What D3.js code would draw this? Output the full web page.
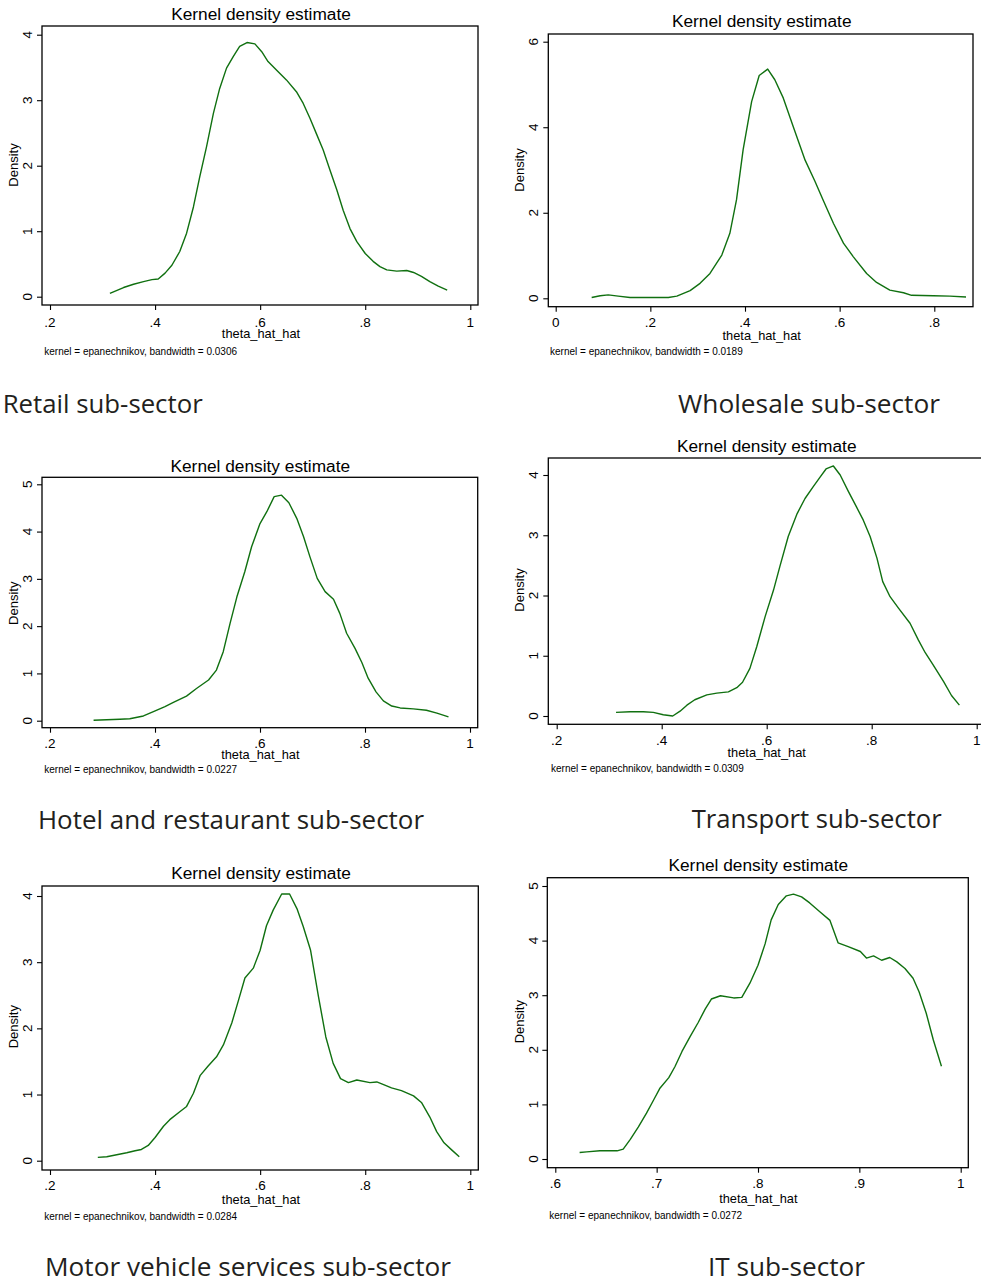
<!DOCTYPE html>
<html>
<head>
<meta charset="utf-8">
<script src="https://cdn.jsdelivr.net/npm/d3@7"></script>
<style>
body { margin: 0; background: #fff; }
</style>
</head>
<body>
<svg id="chart" width="981" height="1282"></svg>
<script>
// values (theta_hat_hat vs density)
var retailX = [.314,.340,.359,.378,.394,.406,.419,.432,.447,.460,.473,.485,.498,.511,.523,.536,.549,.561,.575,.590,.603,.615,.631,.650,.669,.682,.695,.707,.720,.733,.746,.758,.771,.784,.800,.815,.828,.841,.860,.879,.892,.907,.923,.939,.956];
var retailY = [0.05,0.14,0.19,0.23,0.26,0.27,0.36,0.48,0.69,0.97,1.37,1.83,2.29,2.80,3.18,3.49,3.67,3.82,3.88,3.86,3.74,3.59,3.46,3.31,3.13,2.95,2.72,2.49,2.24,1.93,1.63,1.32,1.04,0.84,0.66,0.54,0.46,0.41,0.39,0.40,0.37,0.31,0.23,0.16,0.10];

var wholesaleX = [.076,.094,.111,.132,.157,.185,.213,.238,.256,.284,.305,.326,.351,.368,.382,.396,.414,.430,.448,.463,.481,.502,.527,.548,.565,.587,.608,.629,.657,.678,.706,.735,.752,.798,.833,.867];
var wholesaleY = [0.02,0.06,0.08,0.05,0.02,0.02,0.02,0.02,0.05,0.18,0.35,0.58,1.01,1.52,2.30,3.47,4.60,5.21,5.36,5.11,4.68,4.01,3.23,2.73,2.30,1.75,1.29,0.97,0.58,0.37,0.19,0.13,0.07,0.06,0.05,0.03];

var hotelX = [.283,.308,.333,.352,.378,.397,.419,.435,.460,.479,.502,.517,.530,.543,.556,.571,.584,.600,.613,.627,.641,.655,.670,.683,.695,.709,.724,.740,.752,.765,.781,.794,.806,.821,.835,.851,.867,.892,.917,.937,.959];
var hotelY = [0.01,0.02,0.03,0.04,0.10,0.19,0.30,0.39,0.52,0.68,0.86,1.07,1.46,2.06,2.62,3.15,3.68,4.17,4.42,4.74,4.77,4.61,4.28,3.89,3.47,3.01,2.73,2.57,2.27,1.85,1.53,1.23,0.90,0.61,0.42,0.31,0.27,0.25,0.22,0.16,0.08];

var transportX = [.313,.340,.365,.384,.403,.421,.435,.448,.463,.486,.505,.527,.543,.554,.568,.581,.597,.613,.625,.641,.658,.673,.689,.702,.713,.727,.740,.756,.771,.784,.797,.810,.821,.835,.851,.873,.889,.902,.917,.937,.952,.967];
var transportY = [0.06,0.07,0.07,0.06,0.02,0.00,0.08,0.18,0.27,0.35,0.38,0.40,0.47,0.56,0.79,1.15,1.65,2.09,2.48,2.98,3.36,3.61,3.81,3.97,4.10,4.15,4.00,3.72,3.47,3.25,2.98,2.62,2.23,1.98,1.79,1.54,1.26,1.05,0.85,0.57,0.34,0.18];

var motorX = [.291,.308,.327,.346,.362,.374,.387,.400,.416,.428,.447,.460,.473,.486,.501,.517,.530,.546,.559,.571,.587,.600,.612,.625,.641,.656,.670,.682,.696,.711,.725,.739,.753,.768,.784,.809,.822,.835,.850,.869,.892,.907,.923,.936,.950,.965,.979];
var motorY = [0.05,0.06,0.09,0.12,0.15,0.17,0.23,0.35,0.52,0.62,0.74,0.82,1.02,1.29,1.43,1.57,1.75,2.08,2.43,2.76,2.91,3.18,3.55,3.79,4.03,4.03,3.81,3.54,3.18,2.48,1.87,1.47,1.24,1.18,1.22,1.18,1.19,1.15,1.10,1.06,0.98,0.88,0.66,0.44,0.27,0.16,0.06];

var itX = [.624,.631,.644,.661,.667,.674,.682,.690,.697,.703,.712,.718,.725,.733,.741,.748,.754,.763,.776,.784,.792,.800,.807,.813,.820,.828,.835,.843,.851,.861,.871,.879,.889,.901,.907,.914,.922,.930,.937,.945,.953,.959,.966,.973,.981];
var itY = [0.12,0.13,0.15,0.15,0.18,0.36,0.59,0.84,1.08,1.29,1.49,1.69,1.97,2.24,2.50,2.75,2.93,2.99,2.95,2.96,3.22,3.55,3.94,4.38,4.66,4.82,4.85,4.80,4.69,4.53,4.37,3.96,3.89,3.80,3.68,3.72,3.64,3.69,3.61,3.49,3.31,3.06,2.67,2.18,1.70];

var xTicksA = [.2,.4,.6,.8,1];
var xTicksWholesale = [0,.2,.4,.6,.8];
var xTicksIT = [.6,.7,.8,.9,1];
var yTicks4 = [0,1,2,3,4];
var yTicks5 = [0,1,2,3,4,5];
var yTicks6 = [0,2,4,6];

var captions = ["Retail sub-sector","Wholesale sub-sector","Hotel and restaurant sub-sector","Transport sub-sector","Motor vehicle services sub-sector","IT sub-sector"];
var bandwidths = ["0.0306","0.0189","0.0227","0.0309","0.0284","0.0272"];

var seriesX = [retailX, wholesaleX, hotelX, transportX, motorX, itX];
var seriesY = [retailY, wholesaleY, hotelY, transportY, motorY, itY];
var xTickSets = [xTicksA, xTicksWholesale, xTicksA, xTicksA, xTicksA, xTicksIT];
var yTickSets = [yTicks4, yTicks6, yTicks5, yTicks4, yTicks4, yTicks5];

// where each panel sits on the page
var layout = [
  {frame:[42,26,478,305], xr:[50,470.3], yr:[296.7,34.7], title:[261,20], xLabY:327, yLabX:31.7, dens:[17.6,165], thetaY:338, note:[44.3,354.5], cap:[2.7,413,200]},
  {frame:[548.3,34,973,306.7], xr:[555.7,934.3], yr:[298.3,41.7], title:[761.7,27], xLabY:327.2, yLabX:538.3, dens:[524.3,170], thetaY:340, note:[550,355], cap:[678,413,262]},
  {frame:[42,477.3,477.7,727.7], xr:[50,470], yr:[720.7,484.3], title:[260.3,471.8], xLabY:747.8, yLabX:31.7, dens:[17.6,603.3], thetaY:759, note:[44.3,773], cap:[38,829,386]},
  {frame:[548.3,458,992,724.3], xr:[556.7,976.7], yr:[716,475], title:[766.7,451.7], xLabY:744.5, yLabX:537.7, dens:[524.3,590], thetaY:757, note:[551,772], cap:[691.7,828.3,250]},
  {frame:[42,886,478.3,1170], xr:[50,470.3], yr:[1160.7,896], title:[261,879], xLabY:1189.5, yLabX:31.7, dens:[17.6,1026.7], thetaY:1203.5, note:[44.3,1219.7], cap:[45,1275.5,406]},
  {frame:[547.3,877.7,968.3,1167.7], xr:[555.3,960.7], yr:[1159,886], title:[758.3,870.8], xLabY:1187.8, yLabX:537.7, dens:[524.3,1021.7], thetaY:1202.5, note:[549.3,1218.5], cap:[708,1275.5,157]}
];

var stataFont = "'Liberation Sans', Arial, sans-serif";
var lineColor = "#107010";
var ink = "#000";

// stata style tick labels: .2 instead of 0.2
function fmtTick(d) {
  var s = d3.format("~g")(d);
  return s.replace(/^0\./, ".");
}

var svg = d3.select("#chart");
svg.append("rect").attr("width", 981).attr("height", 1282).attr("fill", "#fff");

layout.forEach(function(L, i) {
  var g = svg.append("g").attr("class", "panel_" + i);
  var xt = xTickSets[i], yt = yTickSets[i];
  var x = d3.scaleLinear().domain([xt[0], xt[xt.length - 1]]).range(L.xr);
  var y = d3.scaleLinear().domain([0, yt[yt.length - 1]]).range(L.yr);
  var f = L.frame;

  // curve
  var pts = seriesX[i].map(function(v, k) { return [v, seriesY[i][k]]; });
  g.append("path")
    .datum(pts)
    .attr("fill", "none")
    .attr("stroke", lineColor)
    .attr("stroke-width", 1.4)
    .attr("stroke-linejoin", "round")
    .attr("d", d3.line().x(function(d) { return x(d[0]); }).y(function(d) { return y(d[1]); }));

  // plot frame
  g.append("rect")
    .attr("x", f[0]).attr("y", f[1])
    .attr("width", f[2] - f[0]).attr("height", f[3] - f[1])
    .attr("fill", "none").attr("stroke", ink).attr("stroke-width", 1.3);

  // ticks point outward from the frame
  var yAxis = g.append("g").attr("transform", "translate(" + f[0] + ",0)")
    .call(d3.axisLeft(y).tickValues(yt).tickSize(5).tickFormat(""));
  yAxis.select(".domain").remove();
  yAxis.selectAll("line").attr("stroke", ink).attr("stroke-width", 1.1);

  var xAxis = g.append("g").attr("transform", "translate(0," + f[3] + ")")
    .call(d3.axisBottom(x).tickValues(xt).tickSize(5).tickFormat(""));
  xAxis.select(".domain").remove();
  xAxis.selectAll("line").attr("stroke", ink).attr("stroke-width", 1.1);

  g.selectAll(".xlab").data(xt).join("text").attr("class", "xlab")
    .attr("x", function(d) { return x(d); })
    .attr("y", L.xLabY)
    .attr("text-anchor", "middle")
    .attr("font-family", stataFont).attr("font-size", 13.5).attr("fill", ink)
    .text(fmtTick);

  g.selectAll(".ylab").data(yt).join("text").attr("class", "ylab")
    .attr("transform", function(d) { return "translate(" + L.yLabX + "," + y(d) + ") rotate(-90)"; })
    .attr("text-anchor", "middle")
    .attr("font-family", stataFont).attr("font-size", 13.5).attr("fill", ink)
    .text(fmtTick);

  g.append("text")
    .attr("x", L.title[0]).attr("y", L.title[1])
    .attr("text-anchor", "middle")
    .attr("font-family", stataFont).attr("font-size", 17.3).attr("fill", ink)
    .text("Kernel density estimate");

  g.append("text")
    .attr("transform", "translate(" + L.dens[0] + "," + L.dens[1] + ") rotate(-90)")
    .attr("text-anchor", "middle")
    .attr("font-family", stataFont).attr("font-size", 13).attr("fill", ink)
    .text("Density");

  g.append("text")
    .attr("x", L.title[0]).attr("y", L.thetaY)
    .attr("text-anchor", "middle")
    .attr("font-family", stataFont).attr("font-size", 12.8).attr("fill", ink)
    .text("theta_hat_hat");

  g.append("text")
    .attr("x", L.note[0]).attr("y", L.note[1])
    .attr("font-family", stataFont).attr("font-size", 10).attr("fill", ink)
    .text("kernel = epanechnikov, bandwidth = " + bandwidths[i]);

  // caption under each panel
  g.append("text")
    .attr("x", L.cap[0]).attr("y", L.cap[1])
    .attr("textLength", L.cap[2])
    .attr("lengthAdjust", "spacingAndGlyphs")
    .attr("font-family", "'Open Sans', 'Noto Sans', sans-serif")
    .attr("font-size", 26).attr("fill", "#231f20")
    .text(captions[i]);
});
</script>
</body>
</html>
